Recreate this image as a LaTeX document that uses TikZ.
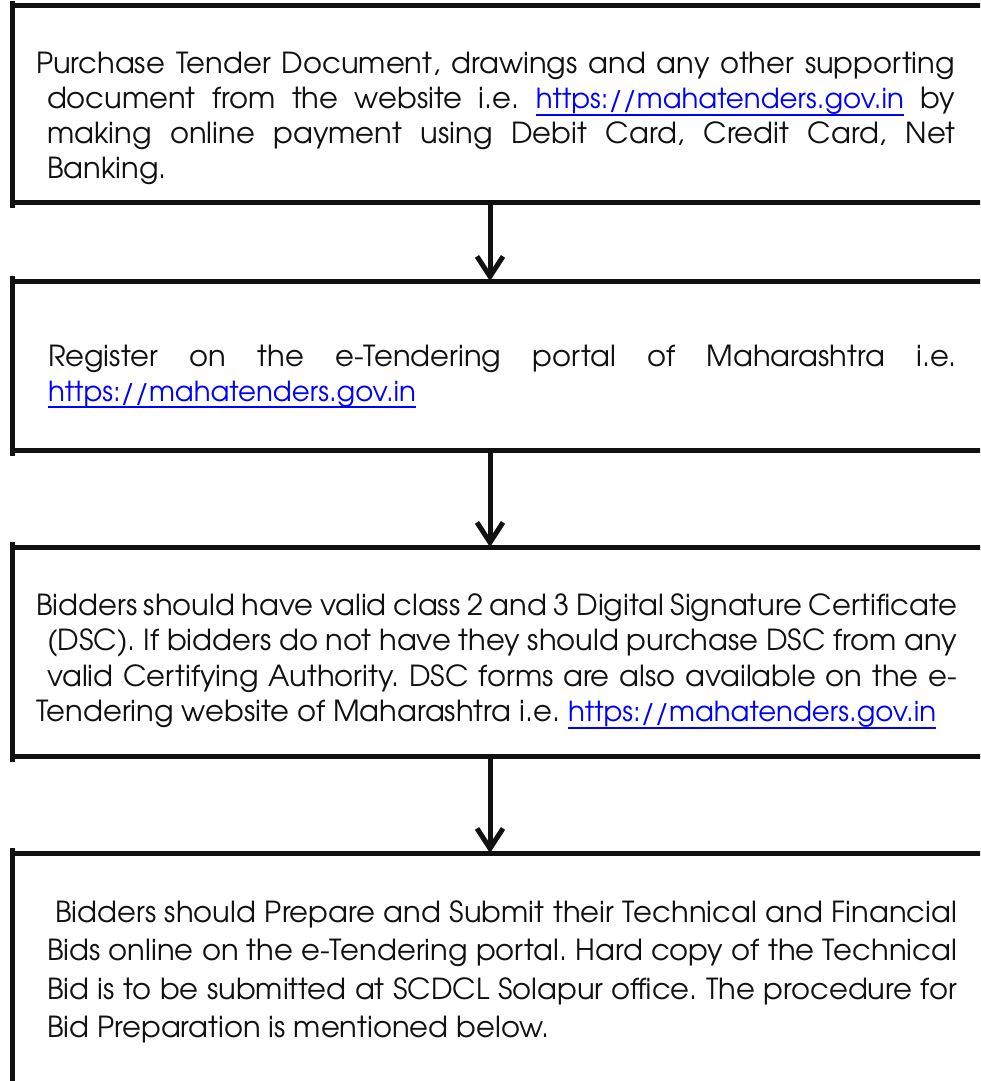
\documentclass[tikz,border=0pt]{standalone}
\usepackage{fontspec}
\setmainfont{TeX Gyre Adventor}
\usetikzlibrary{arrows.meta}
\definecolor{lnk}{RGB}{0,0,255}
\definecolor{ink}{RGB}{17,17,17}
\frenchspacing
\newcommand\ulnk[1]{\textcolor{lnk}{\fontsize{27.6}{35}\selectfont\setbox0\hbox{#1}\rlap{\rule[-7pt]{\wd0}{1.6pt}}\box0\relax}}
\newcommand\jline[2][0pt]{\hspace*{#1}\makebox[\dimexpr\linewidth-#1\relax][s]{#2}\par}
\newcommand\lline[2][0pt]{\hspace*{#1}#2\par}
\tikzset{
  stepbox/.style={draw=ink, line width=5pt, rectangle, anchor=north west,
    inner sep=0pt, outer sep=0pt, minimum width=990pt},
  edgeline/.style={draw=ink, line width=5pt},
  txt/.style={anchor=base west, inner sep=0pt, outer sep=0pt, text=ink,
    font=\fontsize{29}{35}\selectfont\frenchspacing},
  flow/.style={draw=ink, line width=5pt, -{Straight Barb[length=20pt,width=26pt]}},
}
\begin{document}
\begin{tikzpicture}[x=1pt,y=-1pt]
\clip (0,0) rectangle (980,1081);
\fill[white] (0,0) rectangle (980,1081);
\coordinate (ax) at (490,0);
% boxes
\node[stepbox, minimum height=196pt] (b1) at (12,6) {};
\node[stepbox, minimum height=169pt] (b2) at (12,281) {};
\node[stepbox, minimum height=209pt] (b3) at (12,547) {};
\node[stepbox, minimum height=260pt] (b4) at (12,853) {};
\foreach \b in {b1,b2,b3,b4}
  \draw[edgeline] ([yshift=5pt]\b.north west) -- ([yshift=-6pt]\b.south west);
% texts
\node[txt] (t1) at (36,74) {\parbox[t]{919pt}{\baselineskip=35pt
  \jline{Purchase Tender Document, drawings and any other supporting}
  \jline[11pt]{document from the website i.e. \ulnk{https://mahatenders.gov.in} by}
  \jline[11pt]{making online payment using Debit Card, Credit Card, Net}
  \lline[11pt]{Banking.}}};
\node[txt] (t2) at (48,366) {\parbox[t]{909pt}{\baselineskip=35pt
  \jline{Register on the e-Tendering portal of Maharashtra i.e.}
  \lline{\ulnk{https://mahatenders.gov.in}}}};
\node[txt] (t3) at (36,615) {\parbox[t]{921pt}{\baselineskip=35.5pt
  \jline{Bidders should have valid class 2 and 3 Digital Signature Certificate}
  \jline[11pt]{(DSC). If bidders do not have they should purchase DSC from any}
  \jline[11pt]{valid Certifying Authority. DSC forms are also available on the e-}
  \lline{Tendering website of Maharashtra i.e. \ulnk{https://mahatenders.gov.in}}}};
\node[txt] (t4) at (47,922) {\parbox[t]{910pt}{\baselineskip=38.5pt
  \jline[8pt]{Bidders should Prepare and Submit their Technical and Financial}
  \jline{Bids online on the e-Tendering portal. Hard copy of the Technical}
  \jline{Bid is to be submitted at SCDCL Solapur office. The procedure for}
  \lline{Bid Preparation is mentioned below.}}};
% arrows
\draw[flow] (b1.south -| ax) -- (b2.north -| ax);
\draw[flow] (b2.south -| ax) -- (b3.north -| ax);
\draw[flow] (b3.south -| ax) -- (b4.north -| ax);
\end{tikzpicture}
\end{document}
